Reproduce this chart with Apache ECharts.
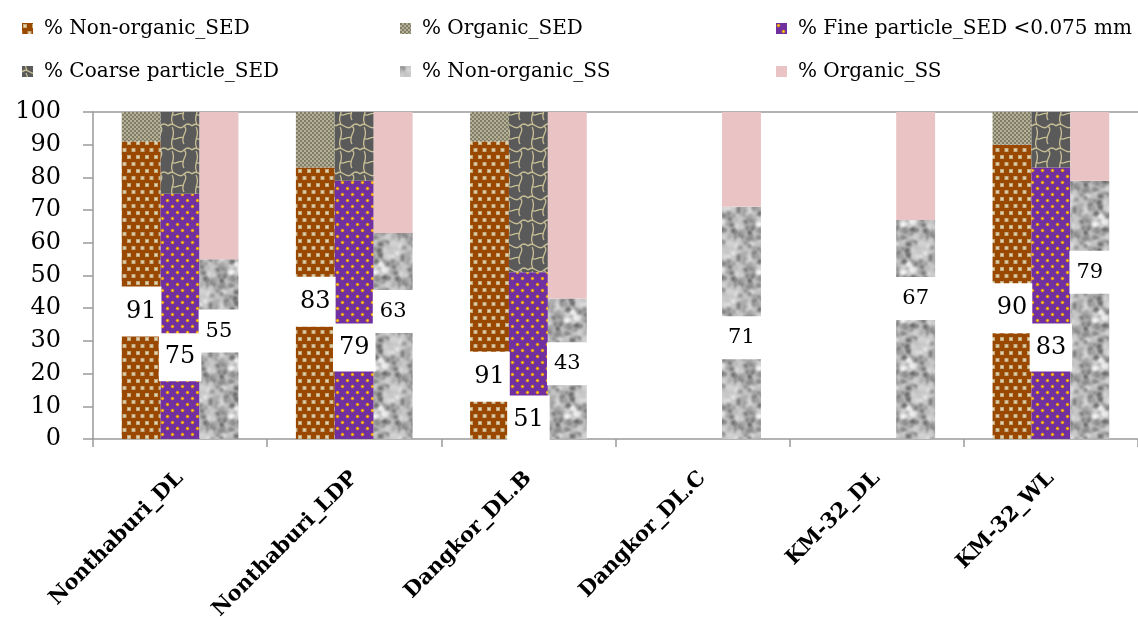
<!DOCTYPE html>
<html><head><meta charset="utf-8">
<script src="https://cdn.jsdelivr.net/npm/echarts@6/dist/echarts.min.js"></script>
<style>html,body{margin:0;padding:0;background:#fff}#c{width:1138px;height:617px}</style>
</head><body><div id="c"></div>
<script>
// ---- data ----
const categories = ['Nonthaburi_DL','Nonthaburi_LDP','Dangkor_DL.B','Dangkor_DL.C','KM-32_DL','KM-32_WL'];
const nonOrganicSED = [91, 83, 91, null, null, 90];
const organicSED    = [9, 17, 9, null, null, 10];
const fineSED       = [75, 79, 51, null, null, 83];
const coarseSED     = [25, 21, 49, null, null, 17];
const nonOrganicSS  = [55, 63, 43, 71, 67, 79];
const organicSS     = [45, 37, 57, 29, 33, 21];
// heights (in % units) where the value labels sit in the picture
const labelAtNonOrgSED = [39, 42, 19, null, null, 40];
const labelAtFine      = [25, 28, 6, null, null, 28];
const labelAtNonOrgSS  = [33, 39, 23, 31, 43, 51];
const seriesNames = ['% Non-organic_SED','% Organic_SED','% Fine particle_SED <0.075 mm','% Coarse particle_SED','% Non-organic_SS','% Organic_SS'];

// ---- fill patterns ----
function mk(w, h, draw) {
  const c = document.createElement('canvas'); c.width = w; c.height = h;
  const g = c.getContext('2d'); draw(g, w, h);
  return { image: c, repeat: 'repeat' };
}
const pBrown = mk(9, 14, g => {
  g.fillStyle = '#9a4700'; g.fillRect(0, 0, 9, 14);
  const sq = (x, y) => { g.fillStyle = '#c4ab80'; g.fillRect(x, y, 4, 4); g.fillStyle = '#e2d5b0'; g.fillRect(x + 1, y + 1, 2, 2); };
  sq(1, 1); sq(5.5, 8); sq(-3.5, 8);
});
const pCheck = mk(4, 4, g => {
  g.fillStyle = '#b5b196'; g.fillRect(0, 0, 4, 4);
  g.fillStyle = '#7f7c68'; g.fillRect(0, 0, 2, 2); g.fillRect(2, 2, 2, 2);
});
const pPurple = mk(10, 12, g => {
  g.fillStyle = '#7030a0'; g.fillRect(0, 0, 10, 12);
  const dot = (x, y) => { g.fillStyle = '#e79a10'; g.beginPath(); g.arc(x, y, 1.7, 0, Math.PI * 2); g.fill(); g.fillStyle = '#ffd040'; g.fillRect(x - 0.6, y - 0.6, 1.2, 1.2); };
  dot(2.5, 2.5); dot(7.5, 8.5);
});
const pCoarse = mk(24, 24, g => {
  g.fillStyle = '#5a5a5a'; g.fillRect(0, 0, 24, 24);
  g.strokeStyle = '#c9bf96'; g.lineWidth = 1.3;
  for (const dx of [-24, 0, 24]) for (const dy of [-24, 0, 24]) {
    g.beginPath();
    g.moveTo(dx + 0, dy + 6); g.bezierCurveTo(dx + 6, dy + 0, dx + 10, dy + 12, dx + 16, dy + 6);
    g.bezierCurveTo(dx + 19, dy + 3, dx + 22, dy + 4, dx + 24, dy + 6);
    g.moveTo(dx + 16, dy + 6); g.bezierCurveTo(dx + 22, dy + 11, dx + 11, dy + 16, dx + 16, dy + 24);
    g.moveTo(dx + 5, dy + 4); g.bezierCurveTo(dx + 0, dy - 3, dx + 9, dy - 8, dx + 4, dy - 17);
    g.moveTo(dx + 16, dy + 18); g.bezierCurveTo(dx + 11, dy + 15, dx + 7, dy + 22, dx + 4, dy + 18);
    g.stroke();
  }
});
const pMarble = mk(48, 48, g => {
  g.fillStyle = '#cfcfcf'; g.fillRect(0, 0, 48, 48);
  let s = 11; const rnd = () => (s = (s * 16807) % 2147483647) / 2147483647;
  g.filter = 'blur(1.6px)';
  for (let i = 0; i < 220; i++) {
    const x = rnd() * 48, y = rnd() * 48, r = 0.8 + rnd() * 2.4, c = Math.floor(90 + rnd() * 165);
    g.fillStyle = 'rgb(' + c + ',' + c + ',' + c + ')';
    for (const dx of [-48, 0, 48]) for (const dy of [-48, 0, 48]) { g.beginPath(); g.arc(x + dx, y + dy, r, 0, Math.PI * 2); g.fill(); }
  }
});
const pPink = '#eac3c4';

// ---- build ----
const labelBase = { show: true, align: 'center', verticalAlign: 'middle', color: '#000', fontFamily: 'DejaVu Serif', backgroundColor: '#fff', formatter: '{c}' };
function labeled(vals, at, fs, pad) {
  return vals.map((v, i) => v == null ? '-' : {
    value: v,
    label: Object.assign({}, labelBase, { fontSize: fs, padding: pad, position: ['50%', ((v - at[i]) / v * 100).toFixed(2) + '%'] })
  });
}
const plain = vals => vals.map(v => v == null ? '-' : v);
const common = { type: 'bar', barGap: '0%', barCategoryGap: '33%' };
const fills = [pBrown, pCheck, pPurple, pCoarse, pMarble, pPink];
const datas = [
  labeled(nonOrganicSED, labelAtNonOrgSED, 24, [13, 5]),
  plain(organicSED),
  labeled(fineSED, labelAtFine, 24, [12, 6]),
  plain(coarseSED),
  labeled(nonOrganicSS, labelAtNonOrgSS, 21, [11, 7]),
  plain(organicSS)
];
const stacks = ['a', 'a', 'b', 'b', 'c', 'c'];
const series = seriesNames.map((n, i) => Object.assign({}, common, {
  name: n, stack: stacks[i], data: datas[i], itemStyle: { color: fills[i] }
}));

const axisGray = '#9a9a9a';
const legendBase = { orient: 'vertical', top: 17, itemWidth: 11, itemHeight: 11, itemGap: 20, padding: 0, icon: 'rect',
  textStyle: { fontFamily: 'DejaVu Serif', fontSize: 20, color: '#000', lineHeight: 23, padding: [0, 0, 0, 6] } };

const chart = echarts.init(document.getElementById('c'));
chart.setOption({
  animation: false,
  backgroundColor: '#fff',
  legend: [
    Object.assign({}, legendBase, { left: 22, data: [seriesNames[0], seriesNames[3]] }),
    Object.assign({}, legendBase, { left: 400, data: [seriesNames[1], seriesNames[4]] }),
    Object.assign({}, legendBase, { left: 776, data: [seriesNames[2], seriesNames[5]] })
  ],
  grid: { left: 93, right: 0, top: 112, bottom: 178, containLabel: false, outerBoundsMode: 'none' },
  xAxis: [
    { type: 'category', data: categories,
      axisLine: { lineStyle: { color: axisGray, width: 1.5 } },
      axisTick: { show: true, length: 8, lineStyle: { color: axisGray, width: 1.5 } },
      axisLabel: { interval: 0, rotate: 45, margin: 36, color: '#000', fontFamily: 'DejaVu Serif', fontWeight: 'bold', fontSize: 21 } },
    { type: 'category', data: categories, position: 'top',
      axisLine: { lineStyle: { color: axisGray, width: 1.5 } }, axisTick: { show: false }, axisLabel: { show: false } }
  ],
  yAxis: { type: 'value', min: 0, max: 100, interval: 10,
    axisLine: { show: true, lineStyle: { color: axisGray, width: 1.5 } },
    axisTick: { show: true, length: 10, lineStyle: { color: axisGray, width: 1.5 } },
    splitLine: { show: false },
    axisLabel: { margin: 32, color: '#000', fontFamily: 'DejaVu Serif', fontSize: 24 } },
  series: series
});
</script></body></html>
